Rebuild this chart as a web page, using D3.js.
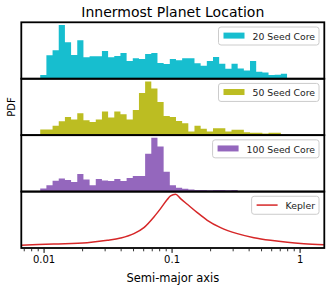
<!DOCTYPE html>
<html>
<head>
<meta charset="utf-8" />
<script src="https://d3js.org/d3.v7.min.js"></script>
<style>
  body { margin: 0; background: #fff; }
  svg { font-family: "DejaVu Sans", sans-serif; }
  .frame { fill: none; stroke: #000; stroke-width: 1.8; }
  .legend-box { fill: #fff; fill-opacity: 0.8; stroke: #cccccc; stroke-width: 1; }
  .tick line { stroke: #000; }
</style>
</head>
<body>
<svg width="332" height="291"></svg>
<script>
// histogram bins: 40 bins, evenly spaced in log10(a)
var binLogStart = -2.026, binLogWidth = 0.0482, binCount = 40;
var binEdges = d3.range(binCount + 1).map(function(i) { return Math.pow(10, binLogStart + i * binLogWidth); });

// bar heights (relative density)
var seed20 = [11,70,85,161,109,71,115,64,67,67,83,64,68,77,53,61,59,74,77,47,44,59,55,61,61,46,39,53,65,45,30,45,31,25,53,21,19,11,12,15];
var seed50 = [17,17,28,42,55,47,66,45,40,47,71,53,71,63,47,76,127,162,141,100,58,55,43,36,11,28,19,11,21,21,11,16,16,9,7,7,5,7,7,0];
var seed100 = [9,19,32,39,34,28,52,36,19,37,33,31,37,31,40,46,46,112,159,133,59,19,11,8,6,5,5,4,5,5,4,5,0,0,0,0,0,0,0,0];

// Kepler curve
var keplerA = [0.0066,0.0120,0.0219,0.0315,0.0400,0.0508,0.0608,0.0728,0.0820,0.0925,0.0982,0.1074,0.1175,0.1327,0.1589,0.1901,0.2415,0.326,0.440,0.593,0.802,1.081,1.549];
var keplerPdf = [8,12,16,23,30,43,61,93,118,145,156,161,148,131,106,83,61,43,31,23,17,13,10];

var majorTicks = [0.01, 0.1, 1];
var minorTicks = [0.007,0.008,0.009,0.02,0.03,0.04,0.05,0.06,0.07,0.08,0.09,0.2,0.3,0.4,0.5,0.6,0.7,0.8,0.9];

var panels = [
  { label: "20 Seed Core", color: "#17becf", values: seed20 },
  { label: "50 Seed Core", color: "#bcbd22", values: seed50 },
  { label: "100 Seed Core", color: "#9467bd", values: seed100 },
  { label: "Kepler", color: "#d62728", line: true }
];

var svg = d3.select("svg");
var pLeft = 21.3, pRight = 324.3, pTop = 22.3, pBottom = 248;
var panelH = (pBottom - pTop) / panels.length;

var x = d3.scaleLog().domain([0.0067, 1.56]).range([pLeft, pRight]);

svg.append("defs").append("clipPath").attr("id", "plotclip")
  .append("rect").attr("x", pLeft).attr("y", pTop).attr("width", pRight - pLeft).attr("height", pBottom - pTop);

panels.forEach(function(p, i) {
  var y0 = pTop + i * panelH;
  var g = svg.append("g");
  var y;

  if (p.line) {
    y = d3.scaleLinear().domain([0, d3.max(keplerPdf) * 1.05]).range([y0 + panelH, y0]);
    var line = d3.line()
      .x(function(d, j) { return x(keplerA[j]); })
      .y(function(d) { return y(d); })
      .curve(d3.curveMonotoneX);
    g.append("path")
      .attr("clip-path", "url(#plotclip)")
      .attr("d", line(keplerPdf))
      .attr("fill", "none")
      .attr("stroke", p.color)
      .attr("stroke-width", 1.5);
  } else {
    y = d3.scaleLinear().domain([0, d3.max(p.values) * 1.05]).range([y0 + panelH, y0]);
    var pts = p.values.map(function(v, j) { return [binEdges[j], v]; });
    pts.push([binEdges[binCount], p.values[binCount - 1]]);
    var area = d3.area()
      .x(function(d) { return x(d[0]); })
      .y0(y(0))
      .y1(function(d) { return y(d[1]); })
      .curve(d3.curveStepAfter);
    g.append("path").attr("d", area(pts)).attr("fill", p.color);
  }

  // legend
  var lg = g.append("g");
  var box = lg.append("rect").attr("class", "legend-box").attr("rx", 2.5).attr("ry", 2.5);
  var txt = lg.append("text")
    .attr("y", y0 + 17.5)
    .attr("font-size", "9.3px")
    .attr("fill", "#222")
    .text(p.label);
  var tw = txt.node().getComputedTextLength();
  var boxR = pRight - 5.3, boxW = tw + 38, boxX = boxR - boxW;
  box.attr("x", boxX).attr("y", y0 + 4.7).attr("width", boxW).attr("height", 18);
  txt.attr("x", boxX + 34);
  if (p.line) {
    lg.append("line")
      .attr("x1", boxX + 5).attr("x2", boxX + 26)
      .attr("y1", y0 + 13.5).attr("y2", y0 + 13.5)
      .attr("stroke", p.color).attr("stroke-width", 1.5);
  } else {
    lg.append("rect")
      .attr("x", boxX + 5).attr("y", y0 + 10.3)
      .attr("width", 21).attr("height", 6)
      .attr("fill", p.color);
  }

  svg.append("rect").attr("class", "frame")
    .attr("x", pLeft).attr("y", y0).attr("width", pRight - pLeft).attr("height", panelH);
});

// x axis
var axMajor = svg.append("g")
  .attr("transform", "translate(0," + (pBottom + 0.9) + ")")
  .call(d3.axisBottom(x).tickValues(majorTicks).tickFormat(d3.format("")).tickSize(4).tickPadding(3));
axMajor.select(".domain").remove();
axMajor.selectAll("text").attr("font-size", "10px").attr("font-family", "DejaVu Sans").attr("fill", "#000");
axMajor.selectAll("line").attr("stroke-width", 1);

var axMinor = svg.append("g")
  .attr("transform", "translate(0," + (pBottom + 0.9) + ")")
  .call(d3.axisBottom(x).tickValues(minorTicks).tickFormat("").tickSize(2.4));
axMinor.select(".domain").remove();
axMinor.selectAll("line").attr("stroke-width", 0.8);

svg.append("text")
  .attr("x", (pLeft + pRight) / 2).attr("y", 281.5)
  .attr("text-anchor", "middle").attr("font-size", "11.5px")
  .text("Semi-major axis");

svg.append("text")
  .attr("transform", "translate(15," + (pTop + panelH * 1.5) + ") rotate(-90)")
  .attr("text-anchor", "middle").attr("font-size", "10px")
  .text("PDF");

svg.append("text")
  .attr("x", (pLeft + pRight) / 2).attr("y", 16.5)
  .attr("text-anchor", "middle").attr("font-size", "14px")
  .text("Innermost Planet Location");
</script>
</body>
</html>
